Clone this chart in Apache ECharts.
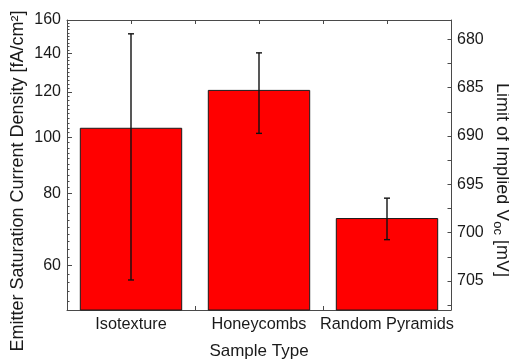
<!DOCTYPE html>
<html><head><meta charset="utf-8">
<script src="https://cdn.jsdelivr.net/npm/echarts@6/dist/echarts.min.js"></script>
<style>html,body{margin:0;padding:0;background:#fff}#c{width:509px;height:362px}</style>
</head><body><div id="c"></div>
<script>
const categories = ['Isotexture', 'Honeycombs', 'Random Pyramids'];
const j0Values = [104, 121, 72.5];
const j0Errors = [47.4, 19.3, 6];
const leftTicks = [60, 80, 100, 120, 140, 160];
const leftMinorTicks = [52, 54, 56, 58, 62, 64, 66, 68, 70, 72, 74, 76, 78, 82, 84, 86, 88, 90, 92, 94, 96, 98,
  102, 104, 106, 108, 110, 112, 114, 116, 118, 122, 124, 126, 128, 130, 132, 134, 136, 138,
  142, 144, 146, 148, 150, 152, 154, 156, 158];
const rightTicks = [680, 685, 690, 695, 700, 705];
const rightMinorTicks = [682.5, 687.5, 692.5, 697.5, 702.5, 707.5];
const leftRange = [50.2, 160];
const rightRange = [678, 708];
const xCenterTicks = [0.5, 1.5, 2.5];

const ln = Math.log;
const AX = '#4a4a4a', TX = '#1a1a1a', FONT = 'Liberation Sans';
const lineStyle = { lineStyle: { color: AX, width: 1 } };

const chart = echarts.init(document.getElementById('c'), null, { renderer: 'canvas' });
chart.setOption({
  animation: false,
  backgroundColor: '#fff',
  textStyle: { fontFamily: FONT, color: TX },
  grid: { left: 67, right: 58, top: 20, bottom: 52, containLabel: false, outerBoundsMode: 'none' },
  xAxis: [
    { type: 'category', position: 'bottom', data: categories,
      axisLine: lineStyle,
      axisTick: { show: true, interval: 0, inside: true, length: 4, lineStyle: { color: AX } },
      axisLabel: { interval: 0, margin: 7, fontSize: 16.3, color: TX, fontFamily: FONT },
      name: 'Sample Type', nameLocation: 'middle', nameGap: 33, nameMoveOverlap: false,
      nameTextStyle: { fontSize: 17, color: TX, fontFamily: FONT } },
    { type: 'value', position: 'bottom', min: 0, max: 3,
      axisLine: { show: false }, splitLine: { show: false },
      axisTick: { show: true, inside: true, length: 4, customValues: xCenterTicks, lineStyle: { color: AX } },
      axisLabel: { show: false } },
    { type: 'category', position: 'top', data: categories,
      axisLine: lineStyle,
      axisTick: { show: true, interval: 0, inside: true, length: 4, lineStyle: { color: AX } },
      axisLabel: { show: false } },
    { type: 'value', position: 'top', min: 0, max: 3,
      axisLine: { show: false }, splitLine: { show: false },
      axisTick: { show: true, inside: true, length: 4, customValues: xCenterTicks, lineStyle: { color: AX } },
      axisLabel: { show: false } }
  ],
  yAxis: [
    { type: 'value', position: 'left', min: ln(leftRange[0]), max: ln(leftRange[1]),
      axisLine: { show: true, lineStyle: { color: AX, width: 1 } }, splitLine: { show: false },
      axisTick: { show: true, inside: true, length: 5, customValues: leftTicks.map(ln), lineStyle: { color: AX } },
      axisLabel: { customValues: leftTicks.map(ln), formatter: v => String(Math.round(Math.exp(v))),
        margin: 6, fontSize: 16, color: TX, fontFamily: FONT },
      name: 'Emitter Saturation Current Density [fA/cm²]', nameLocation: 'middle', nameGap: 40, nameRotate: 90,
      nameMoveOverlap: false,
      nameTextStyle: { fontSize: 18, color: TX, fontFamily: FONT, padding: [0, 32, 0, 0] } },
    { type: 'value', position: 'left', min: ln(leftRange[0]), max: ln(leftRange[1]),
      axisLine: { show: false }, splitLine: { show: false },
      axisTick: { show: true, inside: true, length: 2.5, customValues: leftMinorTicks.map(ln), lineStyle: { color: AX } },
      axisLabel: { show: false } },
    { type: 'value', position: 'right', inverse: true, min: rightRange[0], max: rightRange[1],
      axisLine: { show: true, lineStyle: { color: AX, width: 1 } }, splitLine: { show: false },
      axisTick: { show: true, inside: true, length: 3.5, customValues: rightTicks, lineStyle: { color: AX } },
      axisLabel: { customValues: rightTicks, margin: 6, fontSize: 16, color: TX, fontFamily: FONT },
      name: 'Limit of Implied V{sub|oc} [mV]', nameLocation: 'middle', nameGap: 40, nameRotate: -90,
      nameMoveOverlap: false,
      nameTextStyle: { fontSize: 18, color: TX, fontFamily: FONT, padding: [0, 0, 0, 30],
        rich: { sub: { fontSize: 13, verticalAlign: 'bottom', padding: [8, 0, 0, 0], color: TX, fontFamily: FONT } } } },
    { type: 'value', position: 'right', inverse: true, min: rightRange[0], max: rightRange[1],
      axisLine: { show: false }, splitLine: { show: false },
      axisTick: { show: true, inside: true, length: 3.5, customValues: rightMinorTicks, lineStyle: { color: AX } },
      axisLabel: { show: false } }
  ],
  series: [
    { type: 'bar', xAxisIndex: 0, yAxisIndex: 0, clip: true, z: 2,
      data: j0Values.map(ln), barWidth: '80%',
      itemStyle: { color: '#ff0000', borderColor: '#1a1a1a', borderWidth: 1 } },
    { type: 'custom', xAxisIndex: 0, yAxisIndex: 0, z: 5,
      data: categories.map((c, i) => [i, ln(j0Values[i] - j0Errors[i]), ln(j0Values[i] + j0Errors[i])]),
      encode: { x: 0, y: [1, 2] },
      renderItem: (params, api) => {
        const i = api.value(0);
        const pLo = api.coord([i, api.value(1)]);
        const pHi = api.coord([i, api.value(2)]);
        const cap = 3;
        const st = { stroke: '#111', lineWidth: 1.4 };
        return { type: 'group', children: [
          { type: 'line', shape: { x1: pLo[0], y1: pLo[1], x2: pHi[0], y2: pHi[1] }, style: st },
          { type: 'line', shape: { x1: pLo[0] - cap, y1: pLo[1], x2: pLo[0] + cap, y2: pLo[1] }, style: st },
          { type: 'line', shape: { x1: pHi[0] - cap, y1: pHi[1], x2: pHi[0] + cap, y2: pHi[1] }, style: st }
        ] };
      } }
  ]
});
</script></body></html>
